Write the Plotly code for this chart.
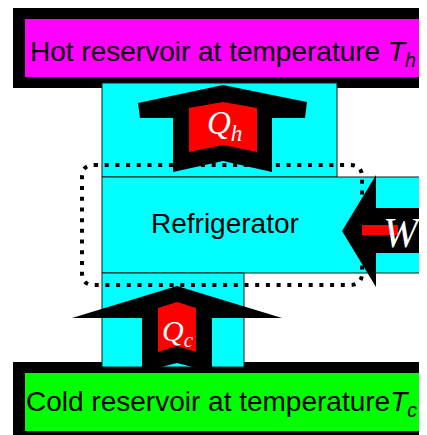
import plotly.graph_objects as go

# labels of the diagram
box_labels = [
    "Hot reservoir at temperature <i>T<sub>h</sub></i>",
    "Refrigerator",
    "Cold reservoir at temperature<i>T<sub>c</sub></i>",
]
flow_labels = ["<i>Q<sub>h</sub></i>", "<i>W</i>", "<i>Q<sub>c</sub></i>"]

# page is 427x435 but the body has an 8px margin, so the figure covers 8..427 / 8..435
PAGE_W, PAGE_H, BODY = 427, 435, 8
CYAN, MAGENTA, GREEN, RED = "#00ffff", "#ff00ff", "#00ff00", "#ff0000"
EDGE = "#1a1a1a"


def poly(points):
    return "M " + " L ".join(f"{x},{y}" for x, y in points) + " Z"


def rect(x0, y0, x1, y1, fill, line=None):
    return dict(type="rect", x0=x0, y0=y0, x1=x1, y1=y1, fillcolor=fill,
                line=dict(color=line or fill, width=1 if line else 0), layer="above")


def path(d, fill, line_color=None, width=0, dash=None):
    ln = dict(color=line_color or fill, width=width)
    if dash:
        ln["dash"] = dash
    return dict(type="path", path=d, fillcolor=fill, line=ln, layer="above")


shapes = [
    # reservoirs
    rect(13, 7, 445, 88, "black"),
    rect(25, 19, 420, 77, MAGENTA),
    rect(13, 362, 445, 445, "black"),
    rect(25, 373, 420, 431, GREEN),
    # engine body
    rect(102, 83, 337, 177, CYAN, EDGE),
    rect(102, 177, 426, 273, CYAN, EDGE),
    rect(102, 273, 244, 367, CYAN, EDGE),
    # dotted boundary
    path("M 94,165 L 350,165 Q 362,165 362,177 L 362,273 Q 362,285 350,285 "
         "L 94,285 Q 82,285 82,273 L 82,177 Q 82,165 94,165 Z",
         "rgba(0,0,0,0)", "black", 4, "4px,6.7px"),
    # Qh arrow
    path(poly([(223, 85), (307, 102), (305, 118), (272, 118), (272, 172), (223, 161),
               (173, 172), (173, 118), (140, 118), (138, 103)]), "black"),
    path(poly([(189, 108), (223, 102), (257, 108), (257, 152), (223, 145), (189, 152)]), RED),
    # Qc arrow
    path(poly([(177, 286), (282, 318), (212, 318), (212, 372), (177, 363), (142, 372),
               (142, 318), (72, 318)]), "black"),
    path(poly([(158, 308), (177, 302), (196, 308), (196, 352), (177, 346), (158, 352)]), RED),
    # W arrow
    path(poly([(342, 231), (376, 175), (376, 208), (440, 208), (440, 217), (422, 231),
               (440, 245), (440, 253), (376, 253), (376, 287)]), "black"),
    rect(362, 225, 398, 235, RED),
]

sans = "Liberation Sans, Arial, sans-serif"
serif = "Liberation Serif, Times New Roman, serif"
annotations = [
    dict(x=223, y=53, text=box_labels[0], font=dict(family=sans, size=28, color="black")),
    dict(x=225, y=223, text=box_labels[1], font=dict(family=sans, size=28, color="black")),
    dict(x=221, y=403, text=box_labels[2], font=dict(family=sans, size=28, color="black")),
    dict(x=224, y=125, text=flow_labels[0], font=dict(family=serif, size=33, color="white")),
    dict(x=402, y=233, text=flow_labels[1], font=dict(family=serif, size=42, color="white")),
    dict(x=178, y=333, text=flow_labels[2], font=dict(family=serif, size=30, color="white")),
    dict(x=4, y=171, text="<i>W</i>", xanchor="right",
         font=dict(family=serif, size=18, color="#333333")),
]
for a in annotations:
    a.setdefault("xanchor", "center")
    a.update(xref="x", yref="y", yanchor="middle", showarrow=False)

fig = go.Figure()
fig.update_layout(
    width=PAGE_W - BODY, height=PAGE_H - BODY, autosize=False,
    margin=dict(l=0, r=0, t=0, b=0),
    paper_bgcolor="white", plot_bgcolor="white",
    xaxis=dict(range=[BODY, PAGE_W], visible=False, fixedrange=True),
    yaxis=dict(range=[PAGE_H, BODY], visible=False, fixedrange=True),
    shapes=shapes, annotations=annotations, showlegend=False,
)
fig.write_html("out.html")
